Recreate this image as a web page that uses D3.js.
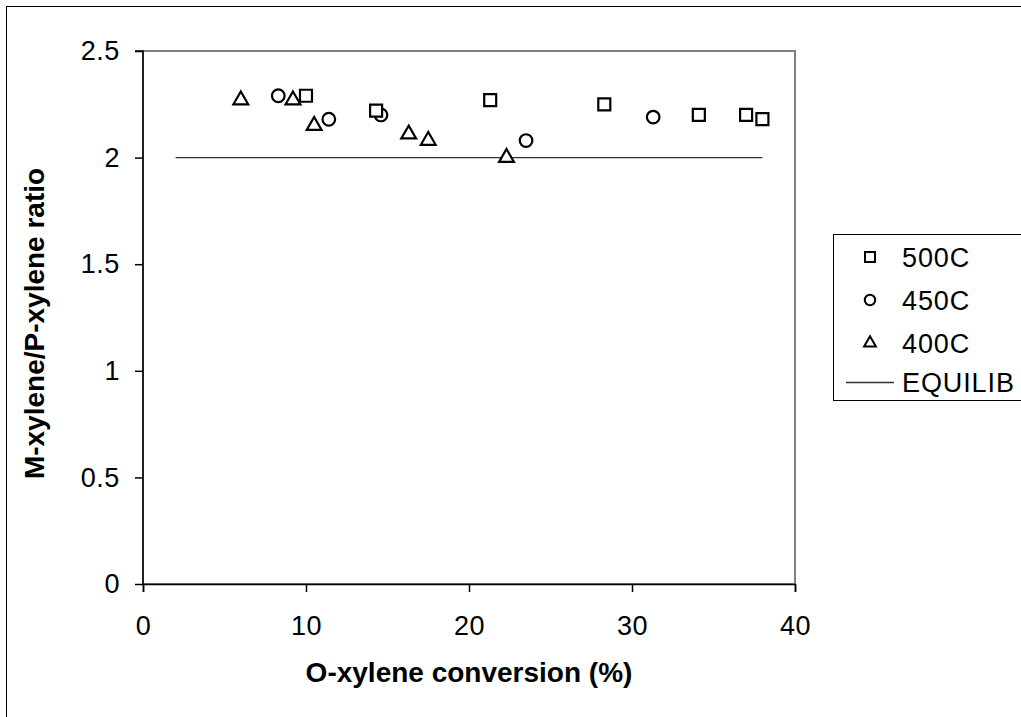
<!DOCTYPE html>
<html>
<head>
<meta charset="utf-8">
<script src="https://cdn.jsdelivr.net/npm/d3@7"></script>
<style>
  html, body { margin: 0; padding: 0; background: #fff; }
  svg text { font-family: "Liberation Sans", Arial, sans-serif; fill: #000; }
</style>
</head>
<body>
<svg id="chart" width="1021" height="717"></svg>
<script>
// ---- data ----
const series500x = [10.0, 14.3, 21.3, 28.3, 34.1, 37.0, 38.0];
const series500y = [2.29, 2.22, 2.27, 2.25, 2.20, 2.20, 2.18];
const series450x = [8.3, 11.4, 14.6, 23.5, 31.3];
const series450y = [2.29, 2.18, 2.20, 2.08, 2.19];
const series400x = [6.0, 9.2, 10.5, 16.3, 17.5, 22.3];
const series400y = [2.27, 2.27, 2.15, 2.11, 2.08, 2.00];
const equilibX = [2, 10.0, 14.3, 21.3, 28.3, 34.1, 37.0, 38.0];
const equilibY = [2.0, 2.0, 2.0, 2.0, 2.0, 2.0, 2.0, 2.0];
const xTicks = [0, 10, 20, 30, 40];
const yTicks = [0, 0.5, 1, 1.5, 2, 2.5];
const yTickLabels = ["0", "0.5", "1", "1.5", "2", "2.5"];
const legendLabels = ["500C", "450C", "400C", "EQUILIB"];
const xTitle = "O-xylene conversion (%)";
const yTitle = "M-xylene/P-xylene ratio";

const svg = d3.select("#chart");
const plot = { left: 143, top: 51, right: 795, bottom: 584 };

// outer chart border (extends past canvas on right/bottom)
svg.append("rect").attr("x", 6.5).attr("y", 6.5).attr("width", 1030).attr("height", 730)
  .attr("fill", "#fff").attr("stroke", "#000").attr("stroke-width", 1);

const x = d3.scaleLinear().domain([0, 40]).range([plot.left, plot.right]);
const y = d3.scaleLinear().domain([0, 2.5]).range([plot.bottom, plot.top]);

// plot area border
svg.append("rect").attr("x", plot.left).attr("y", plot.top)
  .attr("width", plot.right - plot.left).attr("height", plot.bottom - plot.top)
  .attr("fill", "none").attr("stroke", "#808080").attr("stroke-width", 2);

// axes
const xAxis = svg.append("g").attr("transform", `translate(0,${plot.bottom})`)
  .call(d3.axisBottom(x).tickValues(xTicks).tickSize(8).tickPadding(24).tickFormat(d3.format("d")));
const yAxis = svg.append("g").attr("transform", `translate(${plot.left},0)`)
  .call(d3.axisLeft(y).tickValues(yTicks).tickSize(8).tickPadding(15).tickFormat((d, i) => yTickLabels[i]));
[xAxis, yAxis].forEach(g => {
  g.select(".domain").attr("stroke", "#000").attr("stroke-width", 1.5);
  g.selectAll(".tick line").attr("stroke", "#000").attr("stroke-width", 1.5);
  g.selectAll(".tick text").attr("font-size", 27).attr("letter-spacing", "0.6px")
    .attr("font-family", "Liberation Sans, Arial, sans-serif");
});
yAxis.select(".domain").attr("d", `M-8,${plot.top}H0V${plot.bottom}`);

// equilibrium line
const line = d3.line().x((d, i) => x(equilibX[i])).y((d, i) => y(equilibY[i]));
svg.append("path").datum(equilibX).attr("d", line)
  .attr("fill", "none").attr("stroke", "#333").attr("stroke-width", 1.3);

// markers
const symSquare = d3.symbol().type(d3.symbolSquare);
const symCircle = d3.symbol().type(d3.symbolCircle);
const symTri = d3.symbol().type(d3.symbolTriangle);

function drawSeries(xs, ys, gen, size) {
  svg.append("g").selectAll("path").data(xs).join("path")
    .attr("d", gen.size(size)())
    .attr("transform", (d, i) => `translate(${x(xs[i])},${y(ys[i])})`)
    .attr("fill", "#fff").attr("stroke", "#000").attr("stroke-width", 2.2);
}
drawSeries(series400x, series400y, symTri, 95);
drawSeries(series450x, series450y, symCircle, 125);
drawSeries(series500x, series500y, symSquare, 144);

// titles
svg.append("text").attr("x", (plot.left + plot.right) / 2).attr("y", 682)
  .attr("text-anchor", "middle").attr("font-size", 28).attr("font-weight", "bold").text(xTitle);
svg.append("text").attr("transform", `translate(44,${(plot.top + plot.bottom) / 2 + 6}) rotate(-90)`)
  .attr("text-anchor", "middle").attr("font-size", 28).attr("font-weight", "bold").text(yTitle);

// legend
const lg = svg.append("g");
lg.append("rect").attr("x", 833.5).attr("y", 234.5).attr("width", 200).attr("height", 166)
  .attr("fill", "#fff").attr("stroke", "#000").attr("stroke-width", 1);
const legendY = [257, 300, 343, 382.5];
const legendGens = [symSquare.size(100), symCircle.size(85), symTri.size(60)];
legendLabels.forEach((lab, i) => {
  if (i < 3) {
    lg.append("path").attr("d", legendGens[i]())
      .attr("transform", `translate(870,${legendY[i]})`)
      .attr("fill", "#fff").attr("stroke", "#000").attr("stroke-width", 2);
  } else {
    lg.append("line").attr("x1", 846).attr("x2", 894).attr("y1", legendY[i]).attr("y2", legendY[i])
      .attr("stroke", "#333").attr("stroke-width", 1.3);
  }
  lg.append("text").attr("x", 902).attr("y", legendY[i]).attr("dy", "0.36em")
    .attr("font-size", 27).attr("letter-spacing", "0.9px").text(lab);
});
</script>
</body>
</html>
